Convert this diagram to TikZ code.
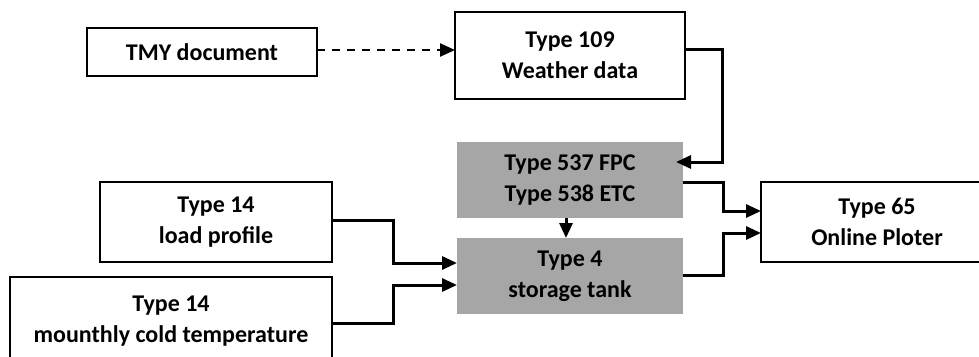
\documentclass[tikz,border=0pt]{standalone}
\usepackage{fontspec}
\setmainfont{Carlito}
\usetikzlibrary{arrows.meta,calc,positioning}

\begin{document}
\begin{tikzpicture}[x=1pt,y=-1pt,
    box/.style={draw,line width=2pt,inner sep=0pt,outer sep=0pt,align=center,
      font=\fontsize{24}{31}\selectfont\bfseries},
    greybox/.style={box,draw=none,fill=tankgrey},
    flow/.style={line width=3pt,-{Triangle[length=15pt,width=13pt]}},
    dashflow/.style={line width=2.4pt,dash pattern=on 8pt off 7pt,-{Triangle[length=15pt,width=13pt]}}]
    \definecolor{tankgrey}{RGB}{166,166,166}
    \useasboundingbox (0,0) rectangle (979,356);
    \clip (0,0) rectangle (979,356);
    \node[box,minimum width=230pt,minimum height=48pt] (tmy) at (202,52) {TMY document};
    \node[box,minimum width=230pt,minimum height=87pt] (wth) at (570,55.5) {Type 109\\Weather data};
    \node[greybox,minimum width=226pt,minimum height=76pt] (col) at (570,180) {Type 537 FPC\\Type 538 ETC};
    \node[greybox,minimum width=226pt,minimum height=76pt] (tank) at (570,276) {Type 4\\storage tank};
    \node[box,minimum width=232pt,minimum height=80pt] (plot) at (877,222) {Type 65\\Online Ploter};
    \node[box,minimum width=232pt,minimum height=80pt] (load) at (216,222) {Type 14\\load profile};
    \node[box,minimum width=322pt,minimum height=89pt] (cold) at (171,321.5) {Type 14\\mounthly cold temperature};
    \draw[dashflow] ([yshift=2pt]tmy.east) -- ([yshift=2pt]tmy.east -| wth.west);
    \draw[flow,shorten >=-7pt] ([yshift=6pt]wth.east) -- ++(37,0) |- ([yshift=18pt]col.east);
    \draw[flow] ([yshift=-2pt]col.east) -- ++(40,0) |- ([yshift=11pt]plot.west);
    \draw[flow] ([yshift=1pt]tank.east) -- ++(40,0) |- ([yshift=-11pt]plot.west);
    \draw[flow] ([yshift=2pt]load.east) -- ++(61,0) |- ([yshift=13pt]tank.west);
    \draw[flow] ([yshift=-1.5pt]cold.east) -- ++(61,0) |- ([yshift=-9pt]tank.west);
    \draw[flow] ([xshift=-4pt]col.south) -- ([xshift=-4pt]tank.north);
\end{tikzpicture}
\end{document}
